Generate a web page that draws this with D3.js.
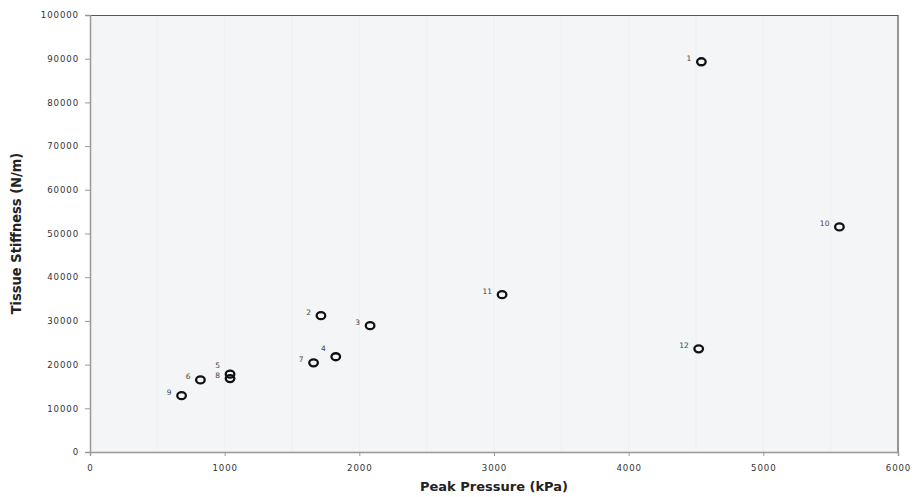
<!DOCTYPE html>
<html>
<head>
<meta charset="utf-8">
<script src="https://cdn.jsdelivr.net/npm/d3@7"></script>
<style>
  body { margin: 0; background: #fff; }
  .tick text { font-family: "DejaVu Sans", sans-serif; font-size: 8.6px; letter-spacing: 0.9px; fill: #333; }
</style>
</head>
<body>
<svg id="chart"></svg>
<script>
// sample labels and readings
const labels = ['1', '2', '3', '4', '5', '6', '7', '8', '9', '10', '11', '12'];
const pressure = [4540, 1715, 2080, 1825, 1040, 820, 1660, 1040, 680, 5565, 3060, 4520];
const stiffness = [89300, 31200, 28900, 21800, 17800, 16500, 20400, 16800, 12900, 51500, 36000, 23600];

const xTicks = [0, 1000, 2000, 3000, 4000, 5000, 6000];
const yTicks = [0, 10000, 20000, 30000, 40000, 50000, 60000, 70000, 80000, 90000, 100000];

const width = 920, height = 497;
const margin = { top: 15, right: 22, bottom: 45, left: 90 };
const w = width - margin.left - margin.right;
const h = height - margin.top - margin.bottom;

const svg = d3.select('#chart')
  .attr('width', width)
  .attr('height', height);

const chart = svg.append('g')
  .attr('transform', `translate(${margin.left},${margin.top})`);

const x = d3.scaleLinear().domain([0, 6000]).range([0, w]);
const y = d3.scaleLinear().domain([0, 100000]).range([h, 0]);

// plot background
chart.append('rect')
  .attr('width', w).attr('height', h)
  .attr('fill', '#f4f5f6');

// faint vertical grid
chart.selectAll('.grid')
  .data(d3.range(500, 6000, 500))
  .join('line')
  .attr('x1', d => x(d)).attr('x2', d => x(d))
  .attr('y1', 0).attr('y2', h)
  .attr('stroke', '#eeeff0').attr('stroke-width', 1);

// top and right border
chart.append('path')
  .attr('d', `M0,0.5H${w}V${h}`)
  .attr('fill', 'none')
  .attr('stroke', '#555').attr('stroke-width', 1.2);

const xAxis = d3.axisBottom(x).tickValues(xTicks).tickSize(4).tickPadding(9).tickFormat(d3.format('d'));
const yAxis = d3.axisLeft(y).tickValues(yTicks).tickSize(5).tickPadding(6).tickFormat(d3.format('d'));

const xg = chart.append('g').attr('transform', `translate(0,${h})`).call(xAxis);
const yg = chart.append('g').call(yAxis);
[xg, yg].forEach(g => {
  g.select('.domain').attr('stroke', '#999').attr('stroke-width', 1.5);
  g.selectAll('.tick line').attr('stroke', '#999');
});

// points
const pts = labels.map((l, i) => ({ label: l, px: pressure[i], sy: stiffness[i] }));

chart.selectAll('.pt')
  .data(pts)
  .join('ellipse')
  .attr('class', 'pt')
  .attr('cx', d => x(d.px))
  .attr('cy', d => y(d.sy))
  .attr('rx', 4.3).attr('ry', 3.5)
  .attr('fill', 'none')
  .attr('stroke', '#111').attr('stroke-width', 2.3);

// labels 4 and 5 sit a bit higher than the rest
const raised = new Set(['4', '5']);

chart.selectAll('.lbl')
  .data(pts)
  .join('text')
  .attr('class', 'lbl')
  .attr('x', d => x(d.px) - 10)
  .attr('y', d => y(d.sy) - (raised.has(d.label) ? 6 : 1))
  .attr('text-anchor', 'end')
  .attr('font-family', 'DejaVu Sans, sans-serif')
  .attr('font-size', '7.5px')
  .attr('fill', '#444')
  .text(d => d.label);

// axis titles
svg.append('text')
  .attr('x', margin.left + w / 2)
  .attr('y', 491)
  .attr('text-anchor', 'middle')
  .attr('font-family', 'DejaVu Sans, sans-serif')
  .attr('font-weight', 'bold')
  .attr('font-size', '13px')
  .attr('fill', '#222')
  .text('Peak Pressure (kPa)');

svg.append('text')
  .attr('transform', `translate(21,${margin.top + h / 2}) rotate(-90)`)
  .attr('text-anchor', 'middle')
  .attr('font-family', '"Liberation Sans Narrow", "DejaVu Sans Condensed", sans-serif')
  .attr('font-weight', 'bold')
  .attr('font-size', '14.5px')
  .attr('fill', '#222')
  .text('Tissue Stiffness (N/m)');
</script>
</body>
</html>
